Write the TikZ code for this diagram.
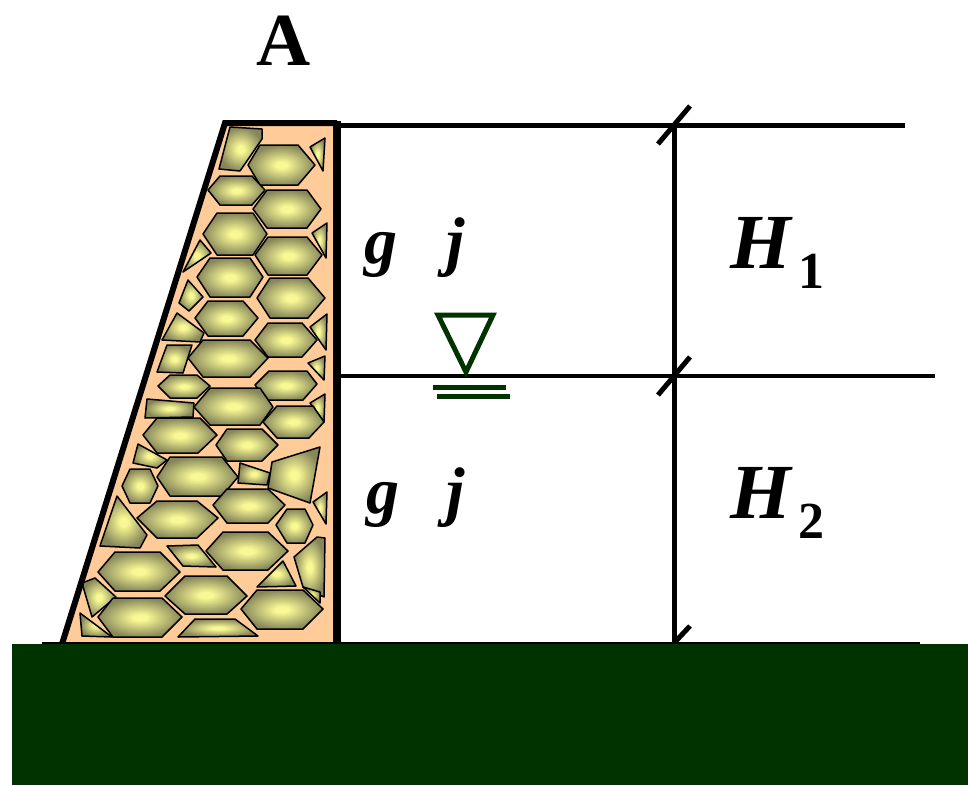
\documentclass[tikz,border=0pt]{standalone}
\usepackage{fontspec}
\setmainfont{Liberation Serif}
\usetikzlibrary{calc}
\definecolor{peach}{HTML}{FFCC99}
\definecolor{soil}{HTML}{003300}
\definecolor{stonein}{HTML}{F8F894}
\definecolor{stoneout}{HTML}{86865A}
\pgfdeclareradialshading{stoneshade}{\pgfpoint{0bp}{0bp}}{%
  color(0bp)=(stonein); color(4bp)=(stonein); color(25bp)=(stoneout); color(50bp)=(stoneout)}
\begin{document}
\begin{tikzpicture}[x=1pt,y=-1pt]
\tikzset{
  stone/.style={draw=black, line width=1.5pt, line join=round, shading=stoneshade},
  rule/.style={draw=black, line width=#1},
  tick/.style={draw=black, line width=5pt},
  label/.style={inner sep=0pt, anchor=base west},
  water/.style={draw=soil, line width=5pt}
}
\useasboundingbox (0,0) rectangle (968,785);

% wall body
\fill[peach] (225,123) -- (337,123) -- (337,643) -- (62,643) -- cycle;

% masonry stones
\path[stone] (230,127) -- (262,129) -- (262,139) -- (240,171) -- (219,169) -- cycle;
\path[stone] (248,165) -- (260,145) -- (298,145) -- (315,165) -- (298,185) -- (260,185) -- cycle;
\path[stone] (310,147) -- (325,138) -- (323,171) -- cycle;
\path[stone] (208,190) -- (220,176) -- (252,176) -- (265,190) -- (252,205) -- (220,205) -- cycle;
\path[stone] (253,209) -- (267,190) -- (307,190) -- (321,209) -- (307,228) -- (267,228) -- cycle;
\path[stone] (203,234) -- (217,213) -- (253,213) -- (267,234) -- (253,255) -- (217,255) -- cycle;
\path[stone] (312,233) -- (327,223) -- (326,258) -- cycle;
\path[stone] (255,255) -- (268,237) -- (307,237) -- (322,255) -- (307,275) -- (268,275) -- cycle;
\path[stone] (183,272) -- (200,240) -- (211,253) -- cycle;
\path[stone] (197,277) -- (210,258) -- (250,258) -- (263,277) -- (250,297) -- (210,297) -- cycle;
\path[stone] (257,298) -- (270,278) -- (308,278) -- (325,298) -- (308,318) -- (270,318) -- cycle;
\path[stone] (179,303) -- (188,280) -- (203,297) -- (189,311) -- cycle;
\path[stone] (195,318) -- (208,301) -- (243,301) -- (258,318) -- (243,336) -- (208,336) -- cycle;
\path[stone] (162,340) -- (177,313) -- (204,333) -- (200,342) -- cycle;
\path[stone] (310,327) -- (327,314) -- (326,350) -- cycle;
\path[stone] (255,340) -- (268,323) -- (302,323) -- (317,340) -- (302,357) -- (268,357) -- cycle;
\path[stone] (157,372) -- (167,345) -- (192,345) -- (183,373) -- cycle;
\path[stone] (188,358) -- (203,340) -- (250,340) -- (268,358) -- (250,377) -- (203,377) -- cycle;
\path[stone] (308,363) -- (325,356) -- (324,380) -- cycle;
\path[stone] (255,385) -- (269,371) -- (307,371) -- (317,384) -- (303,400) -- (267,400) -- cycle;
\path[stone] (158,386) -- (170,375) -- (197,375) -- (210,386) -- (197,398) -- (170,398) -- cycle;
\path[stone] (147,399) -- (194,403) -- (193,417) -- (145,418) -- cycle;
\path[stone] (194,407) -- (210,388) -- (260,388) -- (273,407) -- (260,425) -- (210,425) -- cycle;
\path[stone] (310,403) -- (325,394) -- (324,422) -- cycle;
\path[stone] (263,422) -- (277,406) -- (313,406) -- (324,422) -- (309,438) -- (277,438) -- cycle;
\path[stone] (143,435) -- (157,418) -- (200,418) -- (217,435) -- (198,453) -- (157,453) -- cycle;
\path[stone] (216,445) -- (227,429) -- (262,429) -- (278,445) -- (262,461) -- (227,461) -- cycle;
\path[stone] (138,444) -- (167,460) -- (157,468) -- (133,463) -- cycle;
\path[stone] (157,477) -- (170,457) -- (222,457) -- (238,477) -- (222,496) -- (170,496) -- cycle;
\path[stone] (240,463) -- (270,473) -- (267,485) -- (238,483) -- cycle;
\path[stone] (272,462) -- (320,447) -- (310,503) -- (268,488) -- cycle;
\path[stone] (122,486) -- (130,469) -- (150,469) -- (158,486) -- (150,503) -- (130,503) -- cycle;
\path[stone] (213,505) -- (227,489) -- (268,489) -- (285,505) -- (268,523) -- (227,523) -- cycle;
\path[stone] (313,502) -- (327,492) -- (326,524) -- cycle;
\path[stone] (100,546) -- (117,496) -- (147,535) -- (140,548) -- cycle;
\path[stone] (137,518) -- (157,501) -- (197,501) -- (218,518) -- (197,538) -- (157,538) -- cycle;
\path[stone] (276,525) -- (287,509) -- (305,509) -- (313,525) -- (305,543) -- (287,543) -- cycle;
\path[stone] (167,546) -- (198,545) -- (216,567) -- (183,566) -- cycle;
\path[stone] (206,551) -- (223,532) -- (268,532) -- (288,551) -- (268,570) -- (223,570) -- cycle;
\path[stone] (294,557) -- (317,537) -- (325,538) -- (324,597) -- (303,587) -- cycle;
\path[stone] (98,572) -- (115,552) -- (160,552) -- (180,572) -- (160,591) -- (115,591) -- cycle;
\path[stone] (257,587) -- (283,561) -- (296,586) -- cycle;
\path[stone] (165,596) -- (185,576) -- (227,576) -- (247,596) -- (227,614) -- (185,614) -- cycle;
\path[stone] (82,583) -- (95,578) -- (116,597) -- (92,617) -- cycle;
\path[stone] (303,587) -- (320,592) -- (320,603) -- cycle;
\path[stone] (241,609) -- (257,590) -- (303,590) -- (323,609) -- (303,629) -- (257,629) -- cycle;
\path[stone] (98,617) -- (113,598) -- (162,598) -- (182,617) -- (162,637) -- (113,637) -- cycle;
\path[stone] (80,613) -- (112,637) -- (82,636) -- cycle;
\path[stone] (178,637) -- (195,619) -- (235,619) -- (258,636) -- cycle;

% wall outline
\draw[rule=6pt, line join=miter] (62,644) -- (225,123) -- (337,123);
\draw[rule=8pt] (337,121) -- (337,644);

% level lines
\coordinate (top0) at (337,125);
\coordinate (top1) at (905,125);
\coordinate (mid0) at (337,376);
\coordinate (mid1) at (935,376);
\coordinate (bot0) at (42,643);
\coordinate (bot1) at (920,643);
\draw[rule=5pt] (top0) -- (top1);
\draw[rule=4pt] (mid0) -- (mid1);
\draw[rule=2pt] (bot0) -- (bot1);

% dimension line with ticks
\coordinate (d1) at (674,125);
\coordinate (d2) at (674,376);
\coordinate (d3) at (674,643);
\draw[rule=5pt] (d1) -- (d3);
\draw[tick] ($(d1)+(-16,19)$) -- ($(d1)+(16,-19)$);
\draw[tick] ($(d2)+(-16,19)$) -- ($(d2)+(16,-19)$);
\draw[tick] (d3) -- ($(d3)+(16,-17)$);

% ground
\fill[soil] (12,644) rectangle (968,785);

% water level mark
\draw[water, line join=miter] (438,315) -- (493,315) -- (466,372) -- cycle;
\draw[water] (433,387) -- (506,387);
\draw[water] (437,396) -- (510,396);

% labels
\node[inner sep=0pt, anchor=base] (lblA) at (284,65) {\fontsize{75}{75}\selectfont\bfseries A};
\node[label] (g1) at (364,263) {\fontsize{66}{66}\selectfont\bfseries\itshape g};
\node[label] (j1) at (446,263) {\fontsize{66}{66}\selectfont\bfseries\itshape j};
\node[label] (g2) at (366,513) {\fontsize{66}{66}\selectfont\bfseries\itshape g};
\node[label] (j2) at (446,513) {\fontsize{66}{66}\selectfont\bfseries\itshape j};
\node[label] (h1) at (730,268) {\fontsize{78}{78}\selectfont\bfseries\itshape H};
\node[label] (s1) at (798,288) {\fontsize{52}{52}\selectfont\bfseries 1};
\node[label] (h2) at (730,518) {\fontsize{78}{78}\selectfont\bfseries\itshape H};
\node[label] (s2) at (798,538) {\fontsize{52}{52}\selectfont\bfseries 2};
\end{tikzpicture}
\end{document}
